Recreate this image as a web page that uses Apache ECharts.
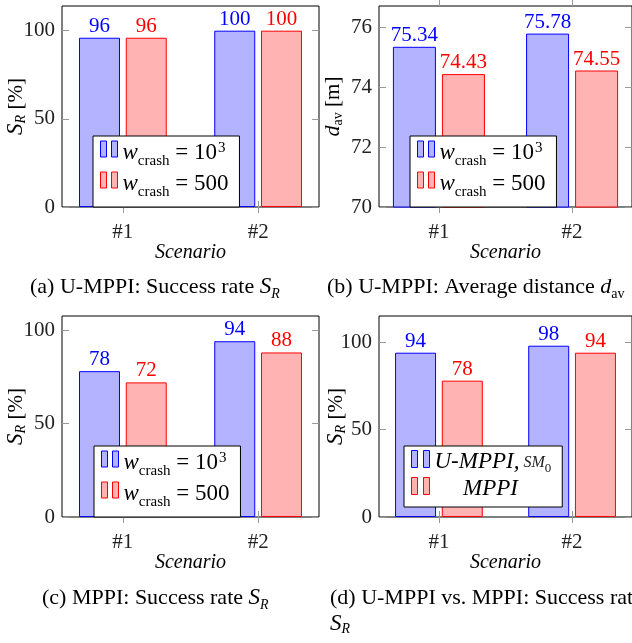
<!DOCTYPE html>
<html>
<head>
<meta charset="utf-8">
<script src="https://cdn.jsdelivr.net/npm/echarts@6/dist/echarts.min.js"></script>
<style>
  html, body { margin: 0; padding: 0; background: #fff; }
  #main { width: 632px; height: 643px; }
</style>
</head>
<body>
<div id="main"></div>
<script>
  // categories (x position 1, 2 on a value axis)
  var scenarios = ['#1', '#2'];
  var scenarioPos = [1, 2];

  // (a) U-MPPI: success rate [%]
  var umppiCrash1000 = [96, 100];
  var umppiCrash500 = [96, 100];
  // (b) U-MPPI: average distance [m]
  var distCrash1000 = [75.34, 75.78];
  var distCrash500 = [74.43, 74.55];
  // (c) MPPI: success rate [%]
  var mppiCrash1000 = [78, 94];
  var mppiCrash500 = [72, 88];
  // (d) U-MPPI (SM0) vs. MPPI: success rate [%]
  var umppiSM0 = [94, 98];
  var mppiPlain = [78, 94];

  // tick labels
  var rateTicks = [0, 50, 100];
  var distTicks = [70, 72, 74, 76];

  var serif = "'Liberation Serif', 'DejaVu Serif', serif";
  var blueFill = '#b3b3ff', blueLine = '#0000ff';
  var redFill = '#ffb3b3', redLine = '#ff0000';
  var tickColor = '#999';

  var mathRich = {
    s: { fontFamily: serif, fontStyle: 'italic', fontSize: 23, lineHeight: 24, verticalAlign: 'middle' },
    d: { fontFamily: serif, fontStyle: 'italic', fontSize: 22, lineHeight: 24, verticalAlign: 'middle' },
    sub: { fontFamily: serif, fontStyle: 'italic', fontSize: 14, lineHeight: 14, verticalAlign: 'bottom' },
    subr: { fontFamily: serif, fontSize: 14, lineHeight: 14, verticalAlign: 'bottom' }
  };

  var panels = [
    { left: 62, top: 6, width: 257, min: 0, max: 114, ticks: rateTicks, barWidth: 41, nameGap: 34,
      yName: '{s|S}{sub|R} [%]', names: ['w1000', 'w500'], data: [umppiCrash1000, umppiCrash500],
      legendLeft: 93, legendTop: 136 },
    { left: 379, top: 6, width: 258, min: 70, max: 76.7, ticks: distTicks, barWidth: 43, nameGap: 34,
      yName: '{d|d}{subr|av} [m]', names: ['w1000', 'w500'], data: [distCrash1000, distCrash500],
      legendLeft: 410, legendTop: 136 },
    { left: 62, top: 316, width: 257, min: 0, max: 107.5, ticks: rateTicks, barWidth: 41, nameGap: 34,
      yName: '{s|S}{sub|R} [%]', names: ['w1000', 'w500'], data: [mppiCrash1000, mppiCrash500],
      legendLeft: 94, legendTop: 446 },
    { left: 379, top: 316, width: 258, min: 0, max: 115, ticks: rateTicks, barWidth: 41, nameGap: 31,
      yName: '{s|S}{sub|R} [%]', names: ['umppi', 'mppi'], data: [umppiSM0, mppiPlain],
      legendLeft: 404, legendTop: 446 }
  ];

  var legendText = {
    w1000: '{w|w}{sub|crash}{eq| = 10}{sup|3}',
    w500: '{w|w}{sub|crash}{eq| = 500}',
    umppi: '{it|U-MPPI,}{sc| SM}{sub0|0}',
    mppi: '{itc|MPPI}'
  };
  var legendRich = {
    w: { fontFamily: serif, fontStyle: 'italic', fontSize: 23, lineHeight: 22, padding: [3, 0, 0, 0], verticalAlign: 'top', color: '#000' },
    eq: { fontFamily: serif, fontSize: 23, lineHeight: 22, padding: [3, 0, 0, 0], verticalAlign: 'top', color: '#000' },
    sub: { fontFamily: serif, fontSize: 15, lineHeight: 10, padding: [16, 0, 0, 0], verticalAlign: 'top', color: '#000' },
    sup: { fontFamily: serif, fontSize: 15, lineHeight: 15, padding: [3, 0, 0, 1], verticalAlign: 'top', color: '#000' },
    it: { fontFamily: serif, fontStyle: 'italic', fontSize: 23, lineHeight: 22, padding: [2, 0, 0, 0], verticalAlign: 'top', color: '#000' },
    sc: { fontFamily: serif, fontStyle: 'italic', fontSize: 16, lineHeight: 16, padding: [7, 0, 0, 0], verticalAlign: 'top', color: '#222' },
    sub0: { fontFamily: serif, fontSize: 13, lineHeight: 10, padding: [14, 0, 0, 0], verticalAlign: 'top', color: '#222' },
    itc: { fontFamily: serif, fontStyle: 'italic', fontSize: 23, lineHeight: 22, padding: [2, 0, 0, 0], verticalAlign: 'top', color: '#000', align: 'center' }
  };
  var legendStyle = {
    w1000: { color: blueFill, borderColor: blueLine, borderWidth: 1 },
    w500: { color: redFill, borderColor: redLine, borderWidth: 1 },
    umppi: { color: blueFill, borderColor: blueLine, borderWidth: 1 },
    mppi: { color: redFill, borderColor: redLine, borderWidth: 1 }
  };

  var grids = [], xAxes = [], yAxes = [], series = [], legends = [];

  panels.forEach(function (p, i) {
    grids.push({ left: p.left, top: p.top, width: p.width, height: 201,
      show: true, borderColor: '#000', borderWidth: 1, backgroundColor: 'transparent' });

    var xBase = { type: 'value', gridIndex: i, min: 0.55, max: 2.45,
      axisLine: { show: false }, splitLine: { show: false } };
    xAxes.push(Object.assign({}, xBase, {
      position: 'bottom',
      axisTick: { show: true, inside: false, length: 6, customValues: scenarioPos, lineStyle: { color: tickColor } },
      axisLabel: { customValues: scenarioPos, margin: 15, fontFamily: serif, fontSize: 21, color: '#222',
        formatter: function (v) { return scenarios[Math.round(v) - 1]; } },
      name: 'Scenario', nameLocation: 'middle', nameGap: 36, nameMoveOverlap: false,
      nameTextStyle: { fontFamily: serif, fontStyle: 'italic', fontSize: 20, lineHeight: 20, color: '#000' }
    }));
    xAxes.push(Object.assign({}, xBase, {
      position: 'top',
      axisTick: { show: true, inside: false, length: 6, customValues: scenarioPos, lineStyle: { color: tickColor } },
      axisLabel: { show: false }
    }));

    var yBase = { type: 'value', gridIndex: i, min: p.min, max: p.max,
      axisLine: { show: false }, splitLine: { show: false } };
    yAxes.push(Object.assign({}, yBase, {
      position: 'left',
      axisTick: { show: true, inside: true, length: 7, customValues: p.ticks, lineStyle: { color: tickColor } },
      axisLabel: { customValues: p.ticks, margin: 7, fontFamily: serif, fontSize: 21, color: '#222' },
      name: p.yName, nameLocation: 'middle', nameGap: p.nameGap, nameMoveOverlap: false,
      nameTextStyle: { fontFamily: serif, fontSize: 21, lineHeight: 24, color: '#000', rich: mathRich }
    }));
    yAxes.push(Object.assign({}, yBase, {
      position: 'right',
      axisTick: { show: true, inside: true, length: 7, customValues: p.ticks, lineStyle: { color: tickColor } },
      axisLabel: { show: false }
    }));

    [[blueFill, blueLine], [redFill, redLine]].forEach(function (c, k) {
      series.push({
        type: 'bar', name: p.names[k], xAxisIndex: 2 * i, yAxisIndex: 2 * i,
        barWidth: p.barWidth, barGap: '14%',
        data: p.data[k].map(function (v, j) { return [scenarioPos[j], v]; }),
        itemStyle: { color: c[0], borderColor: c[1], borderWidth: 1 },
        label: { show: true, position: 'top', distance: 1, color: c[1], fontFamily: serif, fontSize: 21,
          formatter: function (prm) { return String(prm.value[1]); } },
        emphasis: { disabled: true }
      });
    });

    var isD = i === 3;
    legends.push({
      orient: 'vertical', left: p.legendLeft, top: p.legendTop,
      padding: [2, 11, 7, 7],
      itemGap: 0, itemWidth: isD ? 18 : 17, itemHeight: isD ? 17 : 16,
      backgroundColor: '#fff', borderColor: '#000', borderWidth: 1, selectedMode: false,
      data: p.names.map(function (n) {
        var icon = isD ? 'path://M0,0h6v17h-6zM12,0h6v17h-6z' : 'path://M0,0h6v16h-6zM11,0h6v16h-6z';
        return { name: n, icon: icon, itemStyle: legendStyle[n] };
      }),
      formatter: function (n) { return legendText[n]; },
      textStyle: { rich: legendRich, width: isD ? 112 : undefined }
    });
  });

  var captionStyle = { fontFamily: serif, fontSize: 22, fontWeight: 'normal', color: '#000', lineHeight: 28, rich: mathRich };
  var titles = [
    { text: '(a) U-MPPI: Success rate {s|S}{sub|R}', left: 30, top: 273 },
    { text: '(b) U-MPPI: Average distance {d|d}{subr|av}', left: 327, top: 273 },
    { text: '(c) MPPI: Success rate {s|S}{sub|R}', left: 42, top: 584 },
    { text: '(d) U-MPPI vs. MPPI: Success rate\n{s|S}{sub|R}', left: 330, top: 584 }
  ].map(function (t) { return Object.assign(t, { padding: 0, textStyle: captionStyle }); });

  var chart = echarts.init(document.getElementById('main'), null, { renderer: 'canvas' });
  chart.setOption({
    animation: false,
    backgroundColor: '#fff',
    title: titles,
    grid: grids,
    xAxis: xAxes,
    yAxis: yAxes,
    legend: legends,
    series: series
  });
</script>
</body>
</html>
